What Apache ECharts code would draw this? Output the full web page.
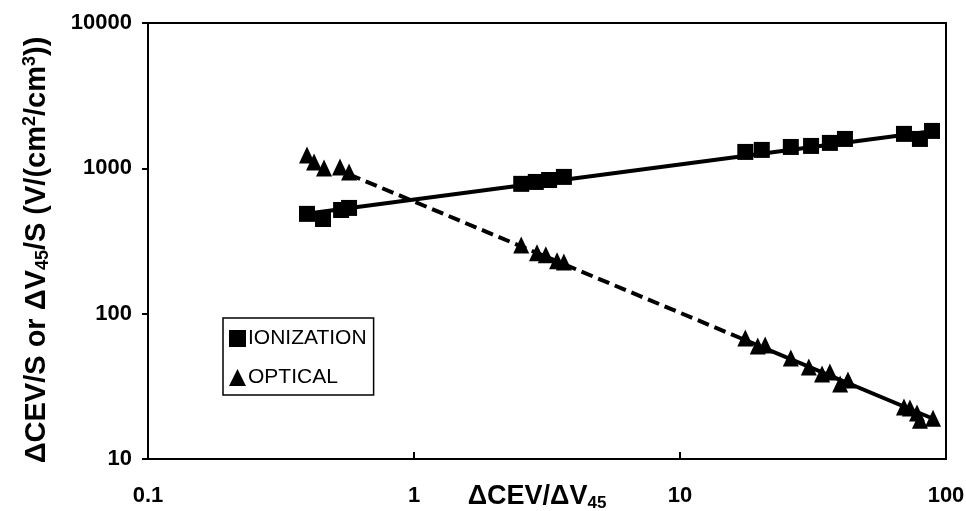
<!DOCTYPE html>
<html>
<head>
<meta charset="utf-8">
<script src="https://cdn.jsdelivr.net/npm/echarts@6/dist/echarts.min.js"></script>
<style>
  html, body { margin: 0; padding: 0; background: #fff; }
  #chart { width: 966px; height: 511px; }
</style>
</head>
<body>
<div id="chart"></div>
<script>
// (log-log axes)
const ionX = [0.396, 0.455, 0.532, 0.570, 2.53, 2.87, 3.22, 3.66, 17.6, 20.3, 26.1, 31.1, 36.6, 41.7, 69.5, 79.8, 88.6];
const ionY = [486, 448, 517, 534, 782, 806, 831, 873, 1297, 1339, 1403, 1426, 1496, 1593, 1726, 1593, 1809];
const optX = [0.396, 0.421, 0.459, 0.527, 0.570, 2.53, 2.90, 3.13, 3.45, 3.66, 17.6, 19.6, 20.9, 26.1, 30.5, 34.2, 36.6, 40.0, 42.8, 69.5, 73.2, 77.8, 79.8, 89.4];
const optY = [1236, 1107, 1007, 1022, 944, 297, 262, 254, 231, 227, 68.0, 59.9, 60.9, 49.6, 43.0, 38.5, 39.7, 32.8, 35.0, 22.8, 22.4, 20.7, 18.5, 19.1];

// trend lines (end points)
const ionFitX = [0.4, 90];
const ionFitY = [489, 1805];
const optDashX = [0.57, 17.6];
const optDashY = [909, 65.8];
const optSolidX = [17.6, 89];
const optSolidY = [65.8, 19];

const pairs = (xs, ys) => xs.map((x, i) => [x, ys[i]]);
const plain = (v) => String(+v.toPrecision(6));

const font = "'Liberation Sans', Arial, sans-serif";

const chart = echarts.init(document.getElementById('chart'));
chart.setOption({
  animation: false,
  backgroundColor: '#fff',
  grid: {
    left: 148, right: 20, top: 23, bottom: 52,
    containLabel: false, outerBoundsMode: 'none',
    show: true, borderColor: '#000', borderWidth: 2
  },
  legend: {
    left: 223, top: 318,
    orient: 'vertical',
    data: [
      { name: 'IONIZATION', icon: 'rect' },
      { name: 'OPTICAL', icon: 'triangle' }
    ],
    itemWidth: 17, itemHeight: 17, itemGap: 18,
    padding: [10, 7, 7, 6],
    borderColor: '#000', borderWidth: 1.5,
    textStyle: { fontFamily: font, fontSize: 21, color: '#000', padding: [0, 0, 0, -3] }
  },
  xAxis: {
    type: 'log', logBase: 10, min: 0.1, max: 100,
    name: '{b|ΔCEV/ΔV}{s|45}',
    nameLocation: 'middle', nameGap: 23, nameMoveOverlap: false,
    nameTextStyle: {
      padding: [0, 20, 0, 0],
      rich: {
        b: { fontFamily: font, fontWeight: 'bold', fontSize: 27, color: '#000', lineHeight: 30 },
        s: { fontFamily: font, fontWeight: 'bold', fontSize: 17, color: '#000', lineHeight: 12, verticalAlign: 'bottom' }
      }
    },
    axisLine: { lineStyle: { color: '#000', width: 2 } },
    axisTick: { inside: true, length: 7, lineStyle: { color: '#000', width: 2 } },
    minorTick: { show: false },
    splitLine: { show: false },
    axisLabel: { margin: 26, fontFamily: font, fontWeight: 'bold', fontSize: 22, color: '#000', formatter: plain }
  },
  yAxis: {
    type: 'log', logBase: 10, min: 10, max: 10000,
    name: '{b|ΔCEV/S or ΔV}{s|45}{b|/S (V/(cm}{p|2}{b|/cm}{p|3}{b|))}',
    nameLocation: 'middle', nameRotate: 90, nameGap: 96, nameMoveOverlap: false,
    nameTextStyle: {
      padding: [0, 18, 0, 0],
      rich: {
        b: { fontFamily: font, fontWeight: 'bold', fontSize: 29, color: '#000', lineHeight: 31 },
        s: { fontFamily: font, fontWeight: 'bold', fontSize: 18, color: '#000', lineHeight: 12, verticalAlign: 'bottom' },
        p: { fontFamily: font, fontWeight: 'bold', fontSize: 18, color: '#000', lineHeight: 12, verticalAlign: 'top' }
      }
    },
    axisLine: { show: true, lineStyle: { color: '#000', width: 2 } },
    axisTick: { inside: false, length: 6, lineStyle: { color: '#000', width: 2 } },
    minorTick: { show: false },
    splitLine: { show: false },
    axisLabel: { margin: 16, fontFamily: font, fontWeight: 'bold', fontSize: 22, color: '#000', formatter: plain }
  },
  series: [
    {
      name: 'ionFit', type: 'line', data: pairs(ionFitX, ionFitY),
      symbol: 'none', silent: true,
      lineStyle: { color: '#000', width: 4 }
    },
    {
      name: 'optDash', type: 'line', data: pairs(optDashX, optDashY),
      symbol: 'none', silent: true,
      lineStyle: { color: '#000', width: 4, type: [12, 6] }
    },
    {
      name: 'optSolid', type: 'line', data: pairs(optSolidX, optSolidY),
      symbol: 'none', silent: true,
      lineStyle: { color: '#000', width: 4 }
    },
    {
      name: 'IONIZATION', type: 'scatter', data: pairs(ionX, ionY),
      symbol: 'rect', symbolSize: 16,
      itemStyle: { color: '#000', opacity: 1 }
    },
    {
      name: 'OPTICAL', type: 'scatter', data: pairs(optX, optY),
      symbol: 'triangle', symbolSize: [16, 17],
      itemStyle: { color: '#000', opacity: 1 }
    }
  ]
});
</script>
</body>
</html>
